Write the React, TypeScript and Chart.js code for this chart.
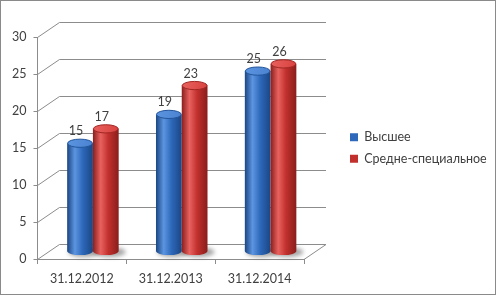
import React, { useEffect, useRef } from 'react';
import { Chart, registerables } from 'chart.js';

Chart.register(...registerables);

const categories = ['31.12.2012', '31.12.2013', '31.12.2014'];
const higherEdu = [15, 19, 25];
const specialEdu = [17, 23, 26];
const seriesNames = ['Высшее', 'Средне-специальное'];
const yMin = 0;
const yMax = 30;
const yStep = 5;

const DX = 22;
const DY = -15;
const PERSPECTIVE = 0.975;
const LEGEND_W = 152;
const FONT = 'Lato, "Open Sans", sans-serif';
const FONT_SIZE = 12.5;
const TEXT = '#404040';
const GRID = '#8c8c8c';

const palettes = [
  { dark: '#1b4683', mid: '#2d68ba', light: '#5c95e0', top: '#4a82d0', rim: '#22559a' },
  { dark: '#8a1e1c', mid: '#c1302d', light: '#e8625f', top: '#d8413e', rim: '#a02624' },
];

const threeD = {
  id: 'threeD',
  afterInit(chart: any) {
    const lg = chart.legend;
    if (lg && !lg.__wide) {
      const origFit = lg.fit.bind(lg);
      lg.fit = function () {
        origFit();
        this.width = LEGEND_W;
      };
      lg.__wide = true;
    }
  },
  beforeDraw(chart: any) {
    const { ctx, width, height } = chart;
    ctx.save();
    ctx.fillStyle = '#ffffff';
    ctx.fillRect(0, 0, width, height);
    ctx.restore();
  },
  beforeDatasetsDraw(chart: any) {
    const { ctx, chartArea: a, scales } = chart;
    const ys = scales.y;
    ctx.save();
    ctx.strokeStyle = GRID;
    ctx.lineWidth = 1;
    ys.ticks.forEach((t: any) => {
      const py = Math.round(ys.getPixelForValue(t.value)) + 0.5;
      ctx.beginPath();
      ctx.moveTo(a.left, py);
      ctx.lineTo(a.left + DX, py + DY);
      ctx.lineTo(a.right + DX, py + DY);
      ctx.stroke();
    });
    const by = Math.round(ys.getPixelForValue(yMin)) + 0.5;
    ctx.beginPath();
    ctx.moveTo(a.right, by);
    ctx.lineTo(a.right + DX, by + DY);
    ctx.stroke();

    chart.data.datasets.forEach((ds: any, di: number) => {
      const meta = chart.getDatasetMeta(di);
      const pal = palettes[di];
      meta.data.forEach((el: any, i: number) => {
        const p = el.getProps(['x', 'y', 'base', 'width'], true);
        const cx = p.x + DX / 2;
        const bty = p.base + DY / 2;
        const ty = bty - (p.base - p.y) * PERSPECTIVE;
        const rx = p.width / 2;
        const ry = Math.max(3, p.width * 0.16);
        // shadow
        ctx.save();
        ctx.filter = 'blur(2px)';
        ctx.fillStyle = 'rgba(0,0,0,0.35)';
        ctx.beginPath();
        ctx.ellipse(cx + 4, bty + 1, rx + 3, ry + 1, 0, 0, Math.PI * 2);
        ctx.fill();
        ctx.restore();
        // body
        const g = ctx.createLinearGradient(cx - rx, 0, cx + rx, 0);
        g.addColorStop(0, pal.dark);
        g.addColorStop(0.3, pal.light);
        g.addColorStop(0.6, pal.mid);
        g.addColorStop(1, pal.dark);
        ctx.fillStyle = g;
        ctx.beginPath();
        ctx.moveTo(cx - rx, ty);
        ctx.lineTo(cx - rx, bty);
        ctx.ellipse(cx, bty, rx, ry, 0, Math.PI, 0, true);
        ctx.lineTo(cx + rx, ty);
        ctx.closePath();
        ctx.fill();
        // top
        const tg = ctx.createLinearGradient(cx - rx, ty - ry, cx + rx, ty + ry);
        tg.addColorStop(0, pal.light);
        tg.addColorStop(1, pal.top);
        ctx.fillStyle = tg;
        ctx.strokeStyle = pal.rim;
        ctx.lineWidth = 1;
        ctx.beginPath();
        ctx.ellipse(cx, ty, rx - 0.5, ry, 0, 0, Math.PI * 2);
        ctx.fill();
        ctx.stroke();
        // value label
        ctx.fillStyle = TEXT;
        ctx.font = FONT_SIZE + 'px ' + FONT;
        ctx.textAlign = 'center';
        ctx.textBaseline = 'alphabetic';
        ctx.fillText(String(ds.data[i]), cx - 4, ty - 8);
      });
    });
    ctx.restore();
    return false;
  },
  afterDraw(chart: any) {
    const { ctx, width, height } = chart;
    ctx.save();
    ctx.strokeStyle = '#8a8a8a';
    ctx.lineWidth = 1;
    ctx.strokeRect(0.5, 0.5, width - 1, height - 1);
    ctx.restore();
  },
};

export default function App() {
  const ref = useRef<HTMLCanvasElement>(null);
  useEffect(() => {
    if (!ref.current) return;
    const chart = new Chart(ref.current, {
      type: 'bar',
      data: {
        labels: categories,
        datasets: [
          { label: seriesNames[0], data: higherEdu, backgroundColor: palettes[0].mid, borderWidth: 0 },
          { label: seriesNames[1], data: specialEdu, backgroundColor: palettes[1].mid, borderWidth: 0 },
        ],
      },
      options: {
        responsive: false,
        animation: false,
        devicePixelRatio: 1,
        layout: { padding: { left: 5, right: 3, top: 37, bottom: 2 } },
        datasets: { bar: { categoryPercentage: 0.58, barPercentage: 1 } },
        plugins: {
          tooltip: { enabled: false },
          legend: {
            position: 'right',
            fullSize: false,
            labels: {
              boxWidth: 8,
              boxHeight: 8,
              padding: 9,
              color: TEXT,
              font: { family: FONT, size: FONT_SIZE },
            },
          },
        },
        scales: {
          x: {
            grid: { offset: true, drawOnChartArea: false, tickLength: 5, color: GRID },
            border: { color: GRID },
            ticks: { color: TEXT, font: { family: FONT, size: FONT_SIZE }, padding: 7, maxRotation: 0 },
          },
          y: {
            min: yMin,
            max: yMax,
            grid: { drawOnChartArea: false, tickLength: 4, color: GRID },
            border: { color: GRID },
            ticks: { stepSize: yStep, color: TEXT, font: { family: FONT, size: FONT_SIZE }, padding: 7 },
          },
          pad: {
            type: 'linear',
            position: 'right',
            display: true,
            grid: { display: false },
            ticks: { display: false },
            border: { display: false },
            afterFit(s: any) {
              s.width = 37;
            },
          },
        },
      },
      plugins: [threeD],
    } as any);
    return () => chart.destroy();
  }, []);
  return (
    <div style={{ position: 'fixed', left: 0, top: 0, width: 496, height: 295, background: '#fff' }}>
      <canvas ref={ref} width={496} height={295} style={{ display: 'block' }} />
    </div>
  );
}
